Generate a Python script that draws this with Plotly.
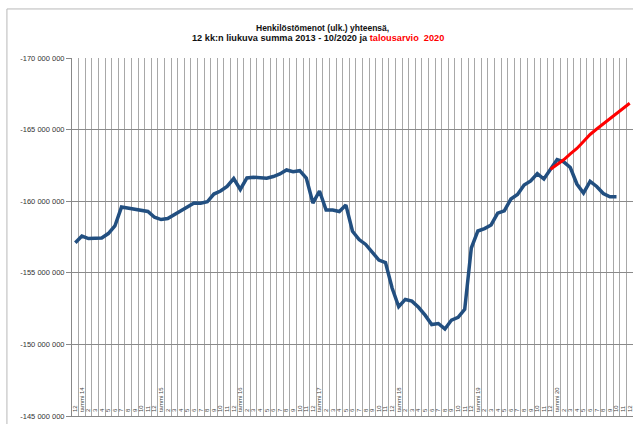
import plotly.graph_objects as go

# ---- data (values in millions of euros) ----
years = ["14", "15", "16", "17", "18", "19", "20"]
month_labels = ["2", "3", "4", "5", "6", "7", "8", "9", "10", "11", "12"]
x_labels = ["12"]
for yy in years:
    x_labels += ["tammi " + yy] + month_labels

actual = [
    -157.10, -157.57, -157.39, -157.44, -157.43, -157.74, -158.27, -159.59, -159.52, -159.42,
    -159.35, -159.28, -158.88, -158.72, -158.79, -159.07, -159.32, -159.59, -159.87, -159.86,
    -159.96, -160.50, -160.71, -161.03, -161.58, -160.82, -161.62, -161.67, -161.62, -161.61,
    -161.72, -161.90, -162.18, -162.06, -162.13, -161.62, -159.87, -160.71, -159.38, -159.38,
    -159.28, -159.73, -157.90, -157.32, -156.98, -156.42, -155.89, -155.72, -153.94, -152.63,
    -153.14, -153.02, -152.59, -152.04, -151.39, -151.46, -151.08, -151.70, -151.89, -152.45,
    -156.73, -157.92, -158.09, -158.34, -159.16, -159.33, -160.15, -160.47, -161.13, -161.41,
    -161.93, -161.55, -162.23, -162.91, -162.75, -162.35, -161.20, -160.57, -161.39, -161.03,
    -160.54, -160.31, -160.31,
]
budget_start = 72
budget = [-162.23, -162.56, -162.89, -163.30, -163.68, -164.17, -164.66, -165.04,
          -165.39, -165.77, -166.12, -166.47, -166.84]

y_tickvals = [-170, -165, -160, -155, -150, -145]
y_ticktext = ["-170 000 000", "-165 000 000", "-160 000 000",
              "-155 000 000", "-150 000 000", "-145 000 000"]

title_line1 = "Henkilöstömenot (ulk.) yhteensä,"
title_line2 = "12 kk:n liukuva summa 2013 - 10/2020 ja "
title_red = "talousarvio  2020"

x_idx = list(range(len(x_labels)))

fig = go.Figure()
fig.add_trace(go.Scatter(
    x=x_idx[:len(actual)], y=actual, mode="lines",
    line=dict(color="#224f80", width=3.5), hoverinfo="skip", showlegend=False))
fig.add_trace(go.Scatter(
    x=x_idx[budget_start:budget_start + len(budget)], y=budget, mode="lines",
    line=dict(color="#ff0000", width=3), hoverinfo="skip", showlegend=False))

fig.update_layout(
    width=633, height=424,
    margin=dict(l=72, r=0, t=58, b=8),
    paper_bgcolor="white", plot_bgcolor="white",
    font=dict(family="Liberation Sans, Arial, sans-serif", color="#222"),
    xaxis=dict(
        range=[-0.5, len(x_labels) - 0.5],
        tickmode="array", tickvals=x_idx, ticktext=x_labels,
        tickangle=-90, ticklabelposition="inside", ticklabeloverflow="allow",
        tickfont=dict(size=6, color="#444"),
        ticks="", showgrid=False, zeroline=False,
        showline=True, linecolor="#888", linewidth=1,
        minor=dict(tickmode="linear", tick0=-0.5, dtick=1, showgrid=True,
                   gridcolor="#a8a8a8", gridwidth=1, ticks=""),
    ),
    yaxis=dict(
        range=[-145, -170],
        tickmode="array", tickvals=y_tickvals, ticktext=y_ticktext,
        ticklabeloverflow="allow",
        tickfont=dict(size=7.5, color="#333"),
        ticks="outside", ticklen=5, tickcolor="#888",
        showgrid=True, gridcolor="#8a8a8a", gridwidth=1,
        zeroline=False, showline=True, linecolor="#888", linewidth=1,
    ),
)

fig.add_annotation(text="<b>" + title_line1 + "</b>", xref="paper", yref="paper",
                   x=0.447, y=1.0838, showarrow=False, xanchor="center", yanchor="middle",
                   font=dict(size=8.5, color="#111"))
fig.add_annotation(text="<b>" + title_line2 + "<span style='color:#ff0000'>" + title_red + "</span></b>",
                   xref="paper", yref="paper",
                   x=0.4385, y=1.056, showarrow=False, xanchor="center", yanchor="middle",
                   font=dict(size=9.2, color="#111"))

# light grey frame of the surrounding sheet (top and left)
fig.add_shape(type="line", xref="paper", yref="paper",
              x0=-0.116, x1=1.0, y0=1.137, y1=1.137,
              line=dict(color="#b8b8b8", width=1))
fig.add_shape(type="line", xref="paper", yref="paper",
              x0=-0.116, x1=-0.116, y0=-0.03, y1=1.137,
              line=dict(color="#b8b8b8", width=1))

fig.write_html("out.html", config={"displayModeBar": False},
               post_script="document.body.style.margin='0px';document.body.style.overflow='hidden';")
